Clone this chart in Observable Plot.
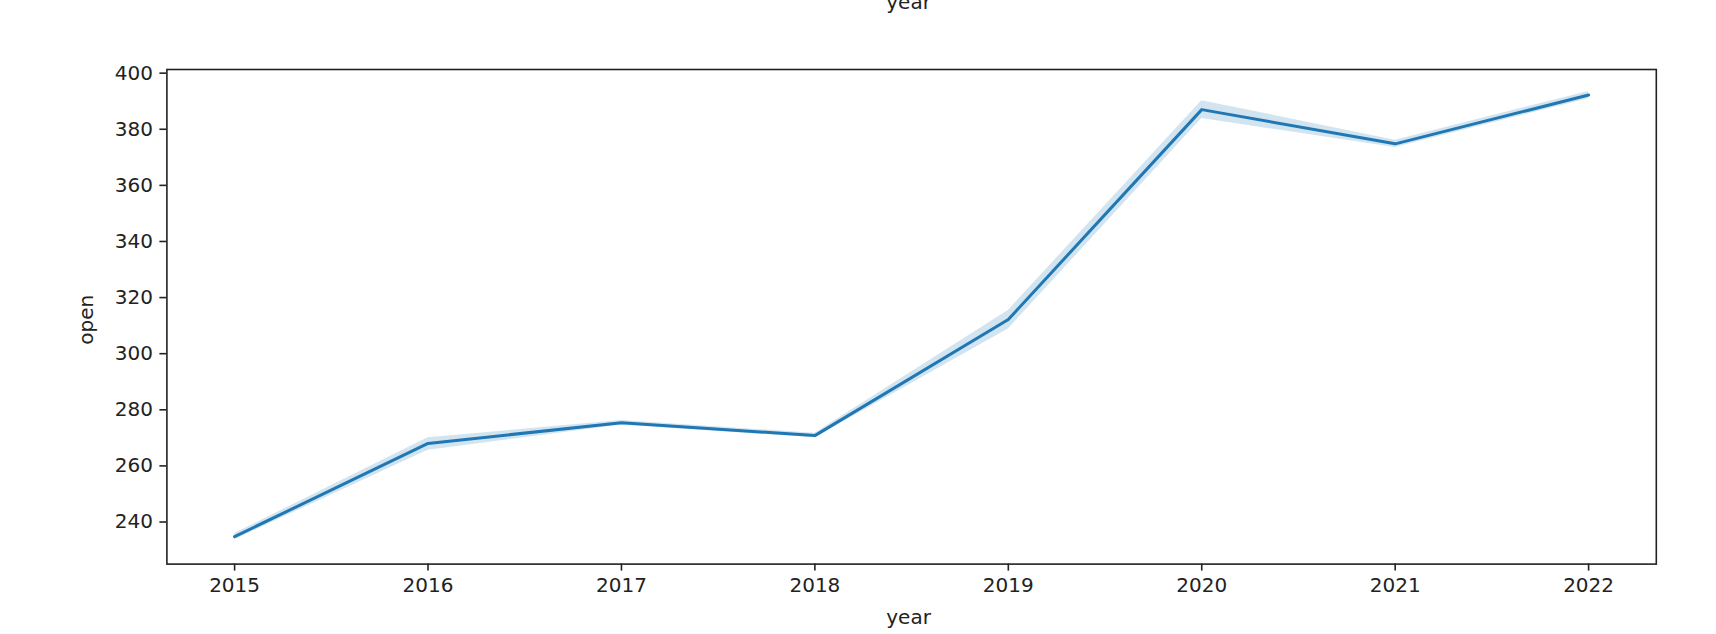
<!DOCTYPE html>
<html>
<head>
<meta charset="utf-8">
<script src="https://cdn.jsdelivr.net/npm/d3@7"></script>
<script src="https://cdn.jsdelivr.net/npm/@observablehq/plot@0.6"></script>
<style>
  html, body { margin: 0; padding: 0; background: #fff; }
  #chart svg { display: block; }
</style>
</head>
<body>
<div id="chart"></div>
<script>
const years = [2015, 2016, 2017, 2018, 2019, 2020, 2021, 2022];
const openMean = [234.8, 268.0, 275.4, 270.8, 312.2, 387.0, 374.8, 392.2];
const ciLow  = [233.7, 265.6, 274.6, 270.0, 308.8, 383.8, 373.5, 390.9];
const ciHigh = [235.9, 270.0, 276.2, 271.6, 315.4, 390.2, 376.1, 393.5];
const yTicks = [240, 260, 280, 300, 320, 340, 360, 380, 400];
const xLabel = "year";
const yLabel = "open";

const data = years.map((y, i) => ({year: y, open: openMean[i], lo: ciLow[i], hi: ciHigh[i]}));

const ink = "#222";
const blue = "#1f77b4";

const chart = Plot.plot({
  width: 1716,
  height: 634,
  marginLeft: 166.4,
  marginRight: 60.2,
  marginTop: 69,
  marginBottom: 70.4,
  style: {fontFamily: "DejaVu Sans", fontSize: "20px", color: ink, background: "#fff", overflow: "visible"},
  x: {domain: [2014.65, 2022.35]},
  y: {domain: [225.0, 401.3]},
  marks: [
    Plot.areaY(data, {x: "year", y1: "lo", y2: "hi", fill: blue, fillOpacity: 0.2}),
    Plot.line(data, {x: "year", y: "open", stroke: blue, strokeWidth: 3}),
    Plot.frame({stroke: ink, strokeWidth: 1.6}),
    Plot.axisX({ticks: years, tickFormat: d => String(d), tickSize: 7, tickPadding: 7, fontSize: 20, strokeWidth: 1.6, label: null}),
    Plot.axisY({ticks: yTicks, tickFormat: d => String(d), tickSize: 7, tickPadding: 7, fontSize: 20, strokeWidth: 1.6, label: null}),
    Plot.text([xLabel], {frameAnchor: "bottom", textAnchor: "middle", lineAnchor: "bottom", dy: 623 - 563.6, dx: -3, fontSize: 20, fill: ink}),
    Plot.text([xLabel], {frameAnchor: "top", textAnchor: "middle", lineAnchor: "bottom", dy: 8 - 69, dx: -3, fontSize: 20, fill: ink}),
    Plot.text([yLabel], {frameAnchor: "left", textAnchor: "middle", lineAnchor: "bottom", rotate: -90, dx: 93 - 166.4, dy: 3, fontSize: 20, fill: ink})
  ]
});
document.getElementById("chart").appendChild(chart);
</script>
</body>
</html>
